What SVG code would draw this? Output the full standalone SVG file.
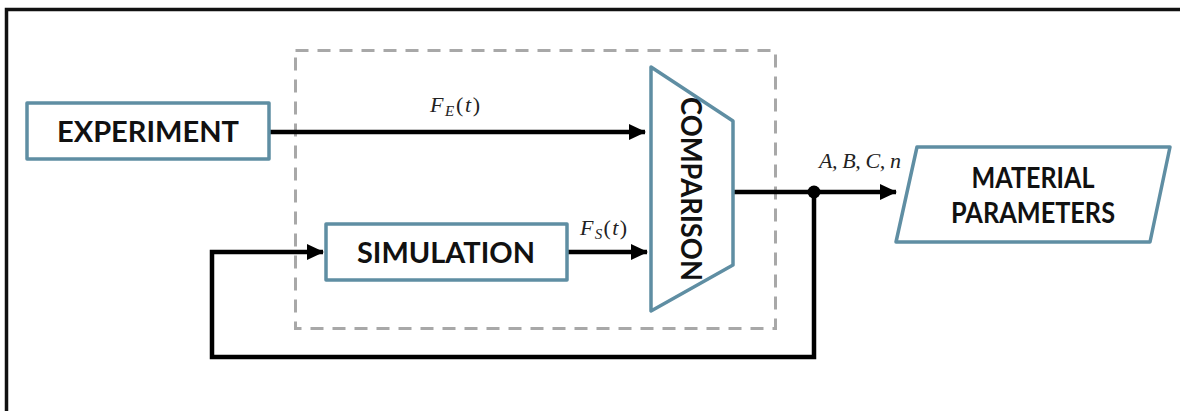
<svg xmlns="http://www.w3.org/2000/svg" width="1180" height="411" viewBox="0 0 1180 411">
<style>
.box{fill:#fff;stroke:#5f8ea3;stroke-width:3.5;stroke-linejoin:round}
.lbl{font-family:Lato,"Open Sans","Liberation Sans",sans-serif;font-weight:700;font-size:28px;fill:#111;text-anchor:middle}
.math{font-family:"Liberation Serif","DejaVu Serif",serif;font-style:italic;font-size:22px;fill:#222}
.sub{font-size:15px}
.wire{fill:none;stroke:#000;stroke-width:4.5;stroke-linejoin:miter}
</style>
<defs>
<marker id="ah" markerUnits="userSpaceOnUse" markerWidth="18" markerHeight="16" refX="16" refY="8" orient="auto">
<path d="M0,0 L17,8 L0,16 Z" fill="#000"/>
</marker>
</defs>
<rect width="1180" height="411" fill="#fff"/>
<path d="M6.5,411 V9.5 H1180" fill="none" stroke="#111" stroke-width="3.5"/>
<rect id="dashed-region" x="295.5" y="50.5" width="480" height="278" fill="none" stroke="#a8a8a8" stroke-width="3" stroke-dasharray="13,9"/>
<g id="connectors">
<line class="wire" x1="269" y1="132" x2="645" y2="132" marker-end="url(#ah)"/>
<line class="wire" x1="567" y1="252" x2="647" y2="252" marker-end="url(#ah)"/>
<line class="wire" x1="733" y1="192" x2="896" y2="192" marker-end="url(#ah)"/>
<path class="wire" d="M814,192 V357 H212 V252 H323" marker-end="url(#ah)"/>
<circle cx="814" cy="192" r="6.5" fill="#000"/>
</g>
<g id="experiment">
<rect class="box" x="27" y="103" width="242" height="56"/>
<text class="lbl" x="148" y="142" textLength="182" lengthAdjust="spacingAndGlyphs">EXPERIMENT</text>
</g>
<g id="simulation">
<rect class="box" x="326" y="224" width="241" height="56"/>
<text class="lbl" x="446" y="263" textLength="178" lengthAdjust="spacingAndGlyphs">SIMULATION</text>
</g>
<g id="comparison">
<path class="box" d="M651,67 L733,121 L733,265 L651,311 Z"/>
<text class="lbl" transform="translate(681,189) rotate(90)" x="0" y="0" textLength="184" lengthAdjust="spacingAndGlyphs">COMPARISON</text>
</g>
<g id="material-parameters">
<path class="box" d="M917,147 L1170,147 L1150,242 L896,242 Z"/>
<text class="lbl" x="1033" y="188" textLength="123" lengthAdjust="spacingAndGlyphs">MATERIAL</text>
<text class="lbl" x="1033" y="223" textLength="164" lengthAdjust="spacingAndGlyphs">PARAMETERS</text>
</g>
<g id="labels">
<text class="math" x="430" y="112" textLength="50">F<tspan class="sub" dy="4">E</tspan><tspan dy="-4" font-style="normal">(</tspan>t<tspan font-style="normal">)</tspan></text>
<text class="math" x="580" y="235" textLength="47">F<tspan class="sub" dy="4">S</tspan><tspan dy="-4" font-style="normal">(</tspan>t<tspan font-style="normal">)</tspan></text>
<text class="math" x="819" y="168" textLength="82">A, B, C, n</text>
</g>
</svg>
